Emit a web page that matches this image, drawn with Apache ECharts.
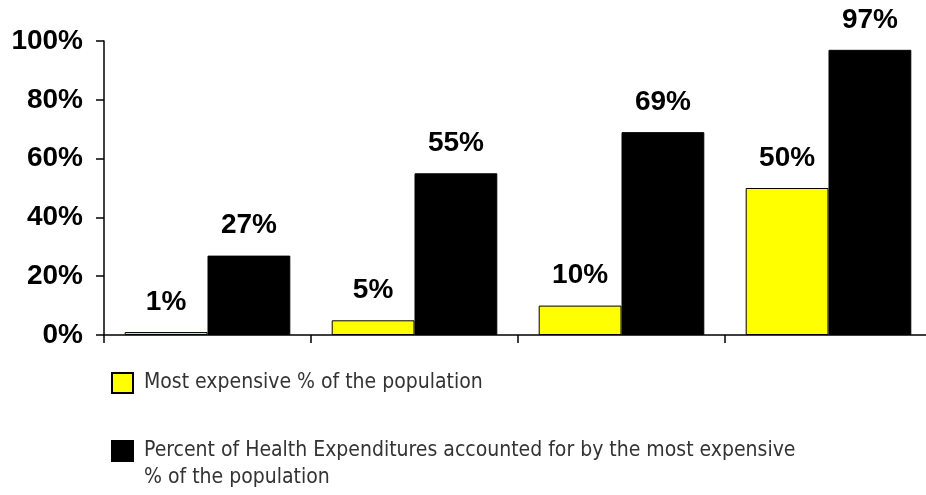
<!DOCTYPE html>
<html>
<head>
<meta charset="utf-8">
<script src="https://cdn.jsdelivr.net/npm/echarts@6/dist/echarts.min.js"></script>
<style>
  html, body { margin: 0; padding: 0; background: #fff; overflow: hidden; }
  #main { width: 932px; height: 495px; }
</style>
</head>
<body>
<div id="main"></div>
<script>
var categories = ['1%', '5%', '10%', '50%'];
var populationShare = [1, 5, 10, 50];
var expenditureShare = [27, 55, 69, 97];
var yTicks = [0, 20, 40, 60, 80, 100];
var seriesNames = [
  'Most expensive % of the population',
  'Percent of Health Expenditures accounted for by the most expensive % of the population'
];

var boldFont = '"Liberation Sans", Arial, sans-serif';
var narrowFont = '"DejaVu Sans Condensed", "Liberation Sans Narrow", sans-serif';

// the plot runs a little past the right edge of the window, like the original
var chart = echarts.init(document.getElementById('main'));

// label shown above each bar
var barLabel = {
  show: true,
  position: 'top',
  distance: 16,
  formatter: '{c}%',
  color: '#000',
  fontFamily: boldFont,
  fontWeight: 'bold',
  fontSize: 28
};

var legendText = {
  color: '#333',
  fontFamily: narrowFont,
  fontSize: 21,
  lineHeight: 27,
  padding: [0, 0, 0, 6]
};

var option = {
  backgroundColor: '#ffffff',
  animation: false,
  grid: { left: 104, right: 0, top: 41, bottom: 160 },
  legend: [{
    data: [seriesNames[0]],
    left: 111,
    top: 369.5,
    padding: 0,
    icon: 'rect',
    itemWidth: 21,
    itemHeight: 20,
    selectedMode: false,
    textStyle: legendText
  }, {
    data: [seriesNames[1]],
    left: 111,
    top: 410.5,
    padding: 0,
    icon: 'rect',
    itemWidth: 21,
    itemHeight: 20,
    selectedMode: false,
    // empty first line keeps the icon level with the first text line
    formatter: function (name) {
      return '\n' + name.replace('expensive % of', 'expensive\n% of');
    },
    textStyle: legendText
  }],
  xAxis: {
    type: 'category',
    data: categories,
    boundaryGap: true,
    axisLine: { lineStyle: { color: '#000', width: 1.5 } },
    axisTick: { show: true, alignWithLabel: false, length: 8, lineStyle: { color: '#000', width: 1.5 } },
    axisLabel: { show: false }
  },
  yAxis: {
    type: 'value',
    min: yTicks[0],
    max: yTicks[yTicks.length - 1],
    interval: yTicks[1] - yTicks[0],
    splitLine: { show: false },
    axisLine: { show: true, lineStyle: { color: '#000', width: 1.5 } },
    axisTick: { show: true, length: 8, lineStyle: { color: '#000', width: 1.5 } },
    axisLabel: {
      margin: 21,
      color: '#000',
      fontFamily: boldFont,
      fontWeight: 'bold',
      fontSize: 28,
      formatter: '{value}%'
    }
  },
  series: [{
    name: seriesNames[0],
    type: 'bar',
    data: populationShare,
    barGap: '0%',
    barCategoryGap: '20%',
    itemStyle: { color: '#ffff00', borderColor: '#000', borderWidth: 1 },
    label: barLabel
  }, {
    name: seriesNames[1],
    type: 'bar',
    data: expenditureShare,
    barGap: '0%',
    barCategoryGap: '20%',
    itemStyle: { color: '#000', borderColor: '#000', borderWidth: 1 },
    label: barLabel
  }]
};

chart.setOption(option);
</script>
</body>
</html>
